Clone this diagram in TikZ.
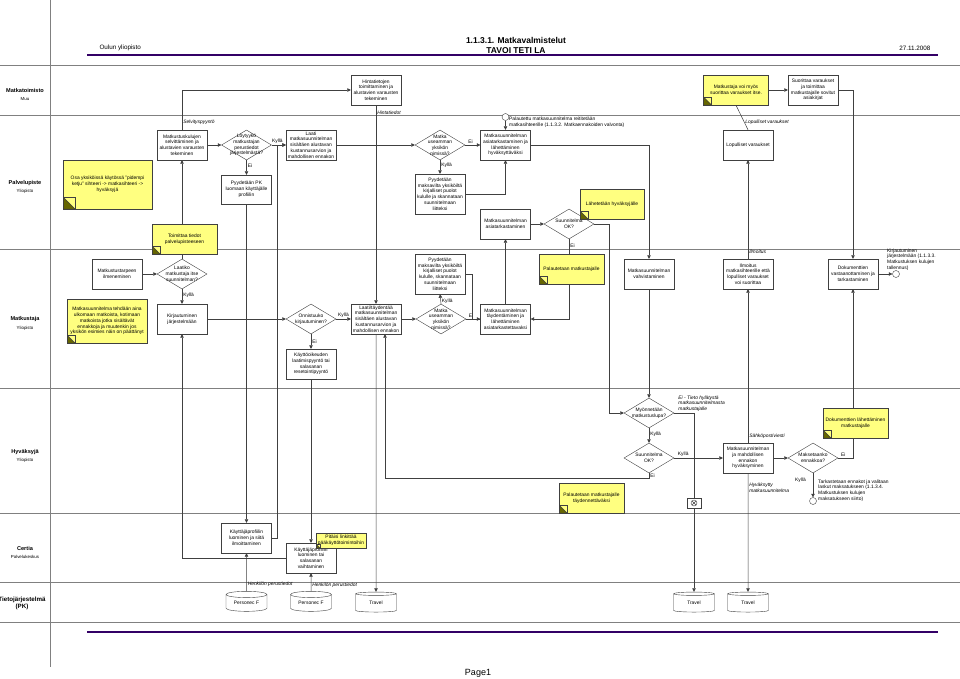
\documentclass[tikz,border=0pt]{standalone}
\usepackage{fontspec}
\setmainfont{Liberation Sans}
\usetikzlibrary{shapes.geometric,arrows.meta}

\definecolor{keltainen}{RGB}{255,255,128}
\definecolor{oliivi}{RGB}{102,102,0}
\definecolor{harmaa}{RGB}{64,64,64}
\definecolor{kaista}{RGB}{128,128,128}
\definecolor{otsikko}{RGB}{51,0,102}

\newcommand{\pieni}{\fontsize{4.9}{5.8}\selectfont}
\newcommand{\kaistafontti}{\fontsize{5.6}{6.5}\selectfont\bfseries}
\newcommand{\alafontti}{\fontsize{4.4}{5}\selectfont}

\begin{document}
\begin{tikzpicture}[x=1pt,y=-1pt,
	laatikko/.style={draw=harmaa, fill=white, minimum width=50pt, minimum height=30pt, inner sep=1pt, align=center, font=\pieni},
	paatos/.style={diamond, draw=harmaa, fill=white, minimum width=50pt, minimum height=30pt, inner sep=0pt},
	ptxt/.style={align=center, font=\pieni, inner sep=0pt},
	muistio/.style={draw=harmaa, fill=keltainen, minimum width=65pt, minimum height=30pt, inner sep=1pt, align=center, font=\pieni,
		path picture={
			\filldraw[draw=harmaa, fill=oliivi] (path picture bounding box.south west) -- ++(0,-#1) -- ++(#1,#1) -- cycle;
			\draw[harmaa] (path picture bounding box.south west) rectangle ++(#1,-#1);
		}},
	muistio/.default=8,
	tietokanta/.style={cylinder, shape border rotate=90, aspect=0.25, draw=harmaa, fill=white, minimum width=41pt, minimum height=20pt, inner sep=0pt, font=\pieni},
	tapahtuma/.style={circle, draw=harmaa, fill=white, minimum size=7pt, inner sep=0pt},
	nuoli/.style={draw=harmaa, line width=0.5pt, -{Triangle[length=3.5pt,width=3.5pt]}},
	yhteys/.style={draw=harmaa, line width=0.5pt},
	teksti/.style={font=\pieni, inner sep=1pt},
	kursiivi/.style={font=\pieni\itshape, inner sep=1pt, align=left},
	kaistanimi/.style={font=\kaistafontti, align=center, inner sep=0pt},
	alanimi/.style={font=\alafontti, inner sep=0pt},
	kaistaviiva/.style={draw=kaista, line width=0.6pt}
	]
	\useasboundingbox (0,0) rectangle (960,679);

	% otsikko
	\node[font=\fontsize{6.3}{7}\selectfont, anchor=west] (yliopisto) at (96,48) {Oulun yliopisto};
	\node[font=\fontsize{8.5}{9.5}\selectfont\bfseries, align=center] (otsikkoteksti) at (516,45.5) {1.1.3.1. Matkavalmistelut\\TAVOI TETI LA};
	\node[font=\fontsize{6.3}{7}\selectfont, anchor=east] (pvm) at (934,48) {27.11.2008};
	\draw[otsikko, line width=1.2pt] (87,55) -- (938,55);
	\draw[otsikko, line width=1.2pt] (87,632) -- (938,632);
	\node[font=\fontsize{9}{10}\selectfont] (sivu) at (478,673) {Page1};

	% kaistat
	\draw[kaistaviiva] (50,0) -- (50,667);
	\foreach \y in {65,115,249,388,513,582,622}
		\draw[kaistaviiva] (0,\y) -- (960,\y);
	\node[kaistanimi] (matkatoimisto) at (25,90) {Matkatoimisto};
	\node[alanimi] (muu) at (25,99) {Muu};
	\node[kaistanimi] (palvelupiste) at (25,183) {Palvelupiste};
	\node[alanimi] (yo1) at (25,191) {Yliopisto};
	\node[kaistanimi] (matkustaja) at (25,319) {Matkustaja};
	\node[alanimi] (yo2) at (25,328) {Yliopisto};
	\node[kaistanimi] (hyvaksyja) at (25,452) {Hyväksyjä};
	\node[alanimi] (yo3) at (25,460) {Yliopisto};
	\node[kaistanimi] (certia) at (25,548) {Certia};
	\node[alanimi] (pk) at (25,557) {Palvelukeskus};
	\node[kaistanimi, font=\fontsize{6.2}{7}\selectfont\bfseries] (tietojarj) at (22,603.5) {Tietojärjestelmä\\(PK)};

	% matkatoimisto
	\node[laatikko] (hinta) at (376,90) {Hintatietojen\\toimittaminen ja\\alustavien varausten\\tekeminen};
	\node[muistio] (itse) at (736,90) {Matkustaja voi myös\\suorittaa varaukset itse.};
	\node[laatikko] (suor) at (813,90) {Suorittaa varaukset\\ja toimittaa\\matkustajalle sovitut\\asiakirjat};

	% palvelupiste
	\node[laatikko] (selv) at (182,145) {Matkustuskulujen\\selvittäminen ja\\alustavien varausten\\tekeminen};
	\node[paatos, label={[ptxt]center:{Löytyykö\\matkustajan\\perustiedot\\järjestelmästä?}}] (loyt) at (246.5,145) {};
	\node[laatikko] (laati) at (311,145) {Laati\\matkasuunnitelman\\sisältäen alustavan\\kustannusarvion ja\\mahdollisen ennakon};
	\node[paatos, label={[ptxt]center:{Matka\\useamman\\yksikön\\nimissä?}}] (useamp) at (440,145) {};
	\node[laatikko] (asiahyv) at (505.5,145) {Matkasuunnitelman\\asiatarkastaminen ja\\lähettäminen\\hyväksyttäväksi};
	\node[tapahtuma] (alku) at (505.5,117) {};
	\node[teksti, anchor=west, align=left] (alkuteksti) at (508,122) {Palautettu matkasuunnitelma reititetään\\matkasihteerille (1.1.3.2. Matkaennakoiden valvonta)};
	\node[laatikko] (lopvar) at (748,145) {Lopulliset varaukset};
	\node[muistio=12, minimum width=89pt, minimum height=49pt] (osa) at (107.5,184.5) {Osa yksiköissä käytössä "pidempi\\ketju" sihteeri -> matkasihteeri ->\\hyväksyjä};
	\node[laatikko, minimum height=29pt] (pkpyynto) at (246.5,189.5) {Pyydetään PK\\luomaan käyttäjälle\\profiilin};
	\node[laatikko, minimum height=40pt] (maksav1) at (440,194) {Pyydetään\\maksavilta yksiköiltä\\kirjalliset puolot\\kululle ja skannataan\\suunnitelmaan\\liitteksi};
	\node[laatikko] (asiatark) at (505.5,224) {Matkasuunnitelman\\asiatarkastaminen};
	\node[paatos, label={[ptxt]center:{Suunnitelma\\OK?}}] (ok1) at (569,224) {};
	\node[muistio, minimum width=64pt] (lahet) at (612,204) {Lähetetään hyväksyjälle};

	% matkustaja
	\node[laatikko] (tarve) at (117,274) {Matkustustarpeen\\ilmeneminen};
	\node[paatos, label={[ptxt]center:{Laatiko\\matkustaja itse\\suunnitelman?}}] (itselaatii) at (182,274) {};
	\node[laatikko] (kirjaut) at (182,319) {Kirjautuminen\\järjestelmään};
	\node[muistio, minimum width=80pt, minimum height=44pt] (aina) at (107,321) {Matkasuunnitelma tehdään aina\\ulkomaan matkoista, kotimaan\\matkoista jotka sisältävät\\ennakkoja ja muutenkin jos\\yksikön esimies näin on päättänyt};
	\node[paatos, label={[ptxt]center:{Onnistuuko\\kirjautuminen?}}] (onnist) at (311,319) {};
	\node[laatikko] (kayttoik) at (311,364) {Käyttöoikeuden\\laatimispyyntö tai\\salasanan\\resetointipyyntö};
	\node[laatikko] (laatitayd) at (376,319) {Laati/täydentää\\matkasuunnitelman\\sisältäen alustavan\\kustannusarvion ja\\mahdollisen ennakon};
	\node[paatos, label={[ptxt]center:{Matka\\useamman\\yksikön\\nimissä?}}] (useamp2) at (441,319) {};
	\node[laatikko, minimum height=40pt] (maksav2) at (440,274) {Pyydetään\\maksavilta yksiköiltä\\kirjalliset puolot\\kululle, skannataan\\suunnitelmaan\\liitteksi};
	\node[laatikko] (taydent) at (505.5,319) {Matkasuunnitelman\\täydentäminen ja\\lähettäminen\\asiatarkastettavaksi};
	\node[muistio] (palaut) at (571.5,269) {Palautetaan matkustajalle};
	\node[laatikko] (vahvist) at (649,274) {Matkasuunnitelman\\vahvistaminen};
	\node[laatikko] (ilmoitus) at (748,274) {Ilmoitus\\matkasihteerille että\\lopulliset varaukset\\voi suorittaa};
	\node[laatikko] (dokvast) at (853,274) {Dokumenttien\\vastaanottaminen ja\\tarkastaminen};
	\node[tapahtuma] (loppu1) at (896,274) {};
	\node[teksti, anchor=west, align=left] (loppu1teksti) at (886,259.5) {Kirjautuminen\\järjestelmään (1.1.3.3.\\Matkustuksen kulujen\\tallennus)};

	% hyvaksyja
	\node[paatos, label={[ptxt]center:{Myönnetään\\matkustuslupa?}}] (myonn) at (649,413) {};
	\node[paatos, label={[ptxt]center:{Suunnitelma\\OK?}}] (ok2) at (649,458) {};
	\node[laatikko] (hyvaks) at (748,458) {Matkasuunnitelman\\ja mahdollisen\\ennakon\\hyväksyminen};
	\node[paatos, label={[ptxt]center:{Maksetaanko\\ennakkoa?}}] (maksenn) at (813,458) {};
	\node[tapahtuma] (loppu2) at (813,501) {};
	\node[teksti, anchor=west, align=left] (loppu2teksti) at (817,490.5) {Tarkastetaan ennakot ja valitaan\\laskut maksatukseen (1.1.3.4.\\Matkustuksen kulujen\\maksatukseen siirto)};
	\node[muistio] (paltayd) at (591.5,498) {Palautetaan matkustajalle\\täydennettäväksi};

	% certia
	\node[laatikko] (profiili1) at (246.5,538) {Käyttäjäprofiilin\\luominen ja siitä\\ilmoittaminen};
	\node[laatikko] (profiili2) at (311,558) {Käyttäjäprofiilin\\luominen tai\\salasanan\\vaihtaminen};

	% tietojarjestelma
	\node[tietokanta] (pf1) at (246.5,603) {Personec F};
	\node[tietokanta] (pf2) at (311,603) {Personec F};
	\node[tietokanta] (trav1) at (376,603) {Travel};
	\node[tietokanta] (trav2) at (694,603) {Travel};
	\node[tietokanta] (trav3) at (748,603) {Travel};

	% yhteydet
	\draw[nuoli] (selv.north) |- node[kursiivi, pos=0.09, right]{Selvityspyyntö} (hinta.west);
	\draw[nuoli] (hinta.south) -- node[kursiivi, pos=0.04, right]{Hintatiedot} (laatitayd.north);
	\draw[nuoli] (laatitayd.south) -- (trav1.north);
	\draw[nuoli] (itse.east) -- (suor.west);
	\draw[nuoli] (suor.east) -| (dokvast.north);
	\draw[yhteys] (lopvar.north) -- node[kursiivi, pos=0.32, right]{Lopulliset varaukset} (itse.south);
	\draw[nuoli] (ilmoitus.north) -- node[kursiivi, pos=0.07, right]{Ilmoitus} (lopvar.south);
	\draw[nuoli] (hyvaks.north) -- node[kursiivi, pos=0.04, right]{Sähköpostiviesti} (ilmoitus.south);
	\draw[nuoli] (hyvaks.south) -- node[kursiivi, pos=0.12, right]{Hyväksytty\\matkasuunnitelma} (trav3.north);

	\draw[nuoli] (selv.east) -- (loyt.west);
	\draw[nuoli] (loyt.east) -- node[teksti, pos=0.4, above]{Kyllä} (laati.west);
	\draw[nuoli] (loyt.south) -- node[teksti, pos=0.4, right]{Ei} (pkpyynto.north);
	\draw[nuoli] (pkpyynto.south) -- (profiili1.north);
	\draw[nuoli] (profiili1.east) -- ++(6,0) |- (laati.west);
	\draw[nuoli] (laati.east) -- (useamp.west);
	\draw[nuoli] (useamp.east) -- node[teksti, pos=0.35, above]{Ei} (asiahyv.west);
	\draw[nuoli] (useamp.south) -- node[teksti, pos=0.4, right]{Kyllä} (maksav1.north);
	\draw[nuoli] (maksav1.east) -| (asiahyv.south);
	\draw[nuoli] (alku.south) -- (asiahyv.north);
	\draw[nuoli] (asiahyv.east) -| (vahvist.north);
	\draw[nuoli] (asiatark.east) -- (ok1.west);
	\draw[yhteys] (ok1.south) -- node[teksti, pos=0.45, right]{Ei} (ok1.south |- palaut.north);
	\draw[nuoli] (ok1.south |- palaut.south) |- (taydent.east);
	\draw[nuoli] (ok1.east) -- ++(15,0) |- (myonn.west);
	\draw[nuoli] (taydent.north) -- (asiatark.south);

	\draw[nuoli] (tarve.east) -- (itselaatii.west);
	\draw[nuoli] (itselaatii.north) -- (selv.south);
	\draw[nuoli] (itselaatii.south) -- node[teksti, pos=0.4, right]{Kyllä} (kirjaut.north);
	\draw[nuoli] (kirjaut.east) -- (onnist.west);
	\draw[nuoli] (onnist.east) -- node[teksti, pos=0.5, above]{Kyllä} (laatitayd.west);
	\draw[nuoli] (onnist.south) -- node[teksti, pos=0.5, right]{Ei} (kayttoik.north);
	\draw[nuoli] (kayttoik.south) -- (profiili2.north);
	\draw[nuoli] (profiili2.west) -| (kirjaut.south);
	\draw[nuoli] (pf1.north) -- node[kursiivi, pos=0.17, right]{Henkilön perustiedot} (profiili1.south);
	\draw[nuoli] (pf2.north) -- node[kursiivi, pos=0.35, right]{Henkilön perustiedot} (profiili2.south);
	\draw[nuoli] (laatitayd.east) -- (useamp2.west);
	\draw[nuoli] (useamp2.north) -- node[teksti, pos=0.3, right]{Kyllä} (maksav2.south);
	\draw[nuoli] (useamp2.east) -- node[teksti, pos=0.35, above]{Ei} (taydent.west);
	\draw[yhteys] (maksav2.east) -- ++(7,0) |- (taydent.west);

	\draw[nuoli] (vahvist.south) -- (myonn.north);
	\draw[nuoli] (myonn.east) -| node[kursiivi, pos=0, anchor=south west, xshift=3pt]{Ei - Tieto hylätystä\\matkasuunnitelmasta\\matkustajalle} (trav2.north);
	\draw[nuoli] (myonn.south) -- node[teksti, pos=0.4, right]{Kyllä} (ok2.north);
	\draw[nuoli] (ok2.east) -- node[teksti, pos=0.05, anchor=south west]{Kyllä} (hyvaks.west);
	\draw[nuoli] (ok2.south) -- node[teksti, right]{Ei} ++(0,5) -| ([xshift=9pt]laatitayd.south);
	\draw[nuoli] (hyvaks.east) -- (maksenn.west);
	\draw[nuoli] (maksenn.east) -| node[teksti, pos=0.17, above]{Ei} (dokvast.south);
	\draw[nuoli] (maksenn.south) -- node[teksti, pos=0.3, left, xshift=-6pt]{Kyllä} (loppu2.north);
	\draw[nuoli] (dokvast.east) -- (loppu1.west);

	% aliprosessi
	\node[draw=harmaa, line width=0.8pt, fill=white, minimum width=14pt, minimum height=10pt, inner sep=0pt] (aliprosessi) at (694,503) {};
	\draw[harmaa] (aliprosessi.center) circle (3);
	\draw[harmaa] (692,501) -- (696,505) (692,505) -- (696,501);

	% muistiot paalla
	\node[muistio] (toimittaa) at (184.5,239) {Toimittaa tiedot\\palvelupisteeseen};
	\node[muistio] (doklahet) at (855.5,423) {Dokumenttien lähettäminen\\matkustajalle};
	\node[muistio=4, minimum width=50pt, minimum height=15pt] (linkita) at (341,540.5) {Pitäisi linkittää\\pääkäyttötoimintoihin};
\end{tikzpicture}
\end{document}
